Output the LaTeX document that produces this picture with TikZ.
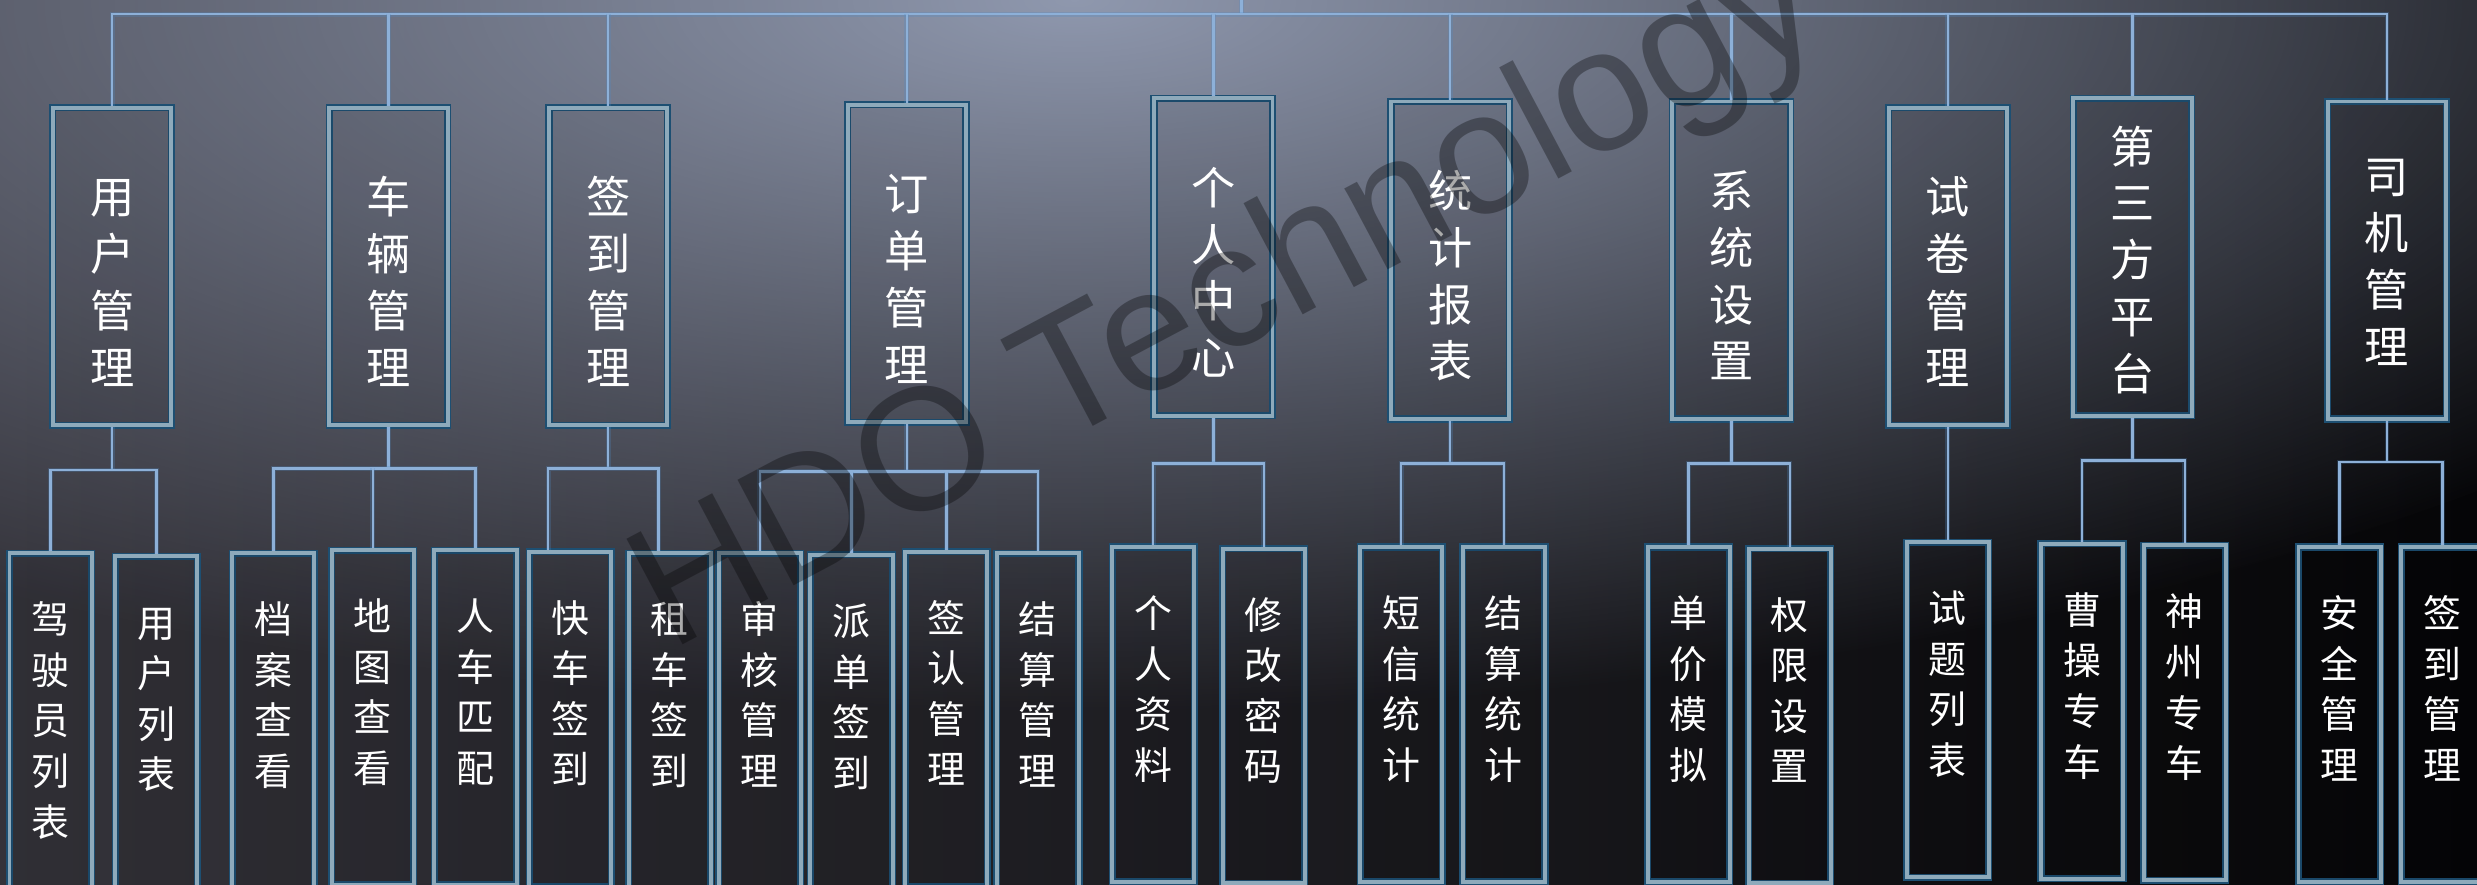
\documentclass[tikz,border=0pt]{standalone}
\usepackage{fontspec}
\newfontfamily\cjk{Noto Sans CJK SC}
\newfontfamily\wmfont{Liberation Sans}
\usetikzlibrary{positioning,fadings}
\definecolor{bgleft}{HTML}{34333A}
\definecolor{bgmid}{HTML}{2A2A30}
\definecolor{bgright}{HTML}{050507}
\definecolor{bglight}{HTML}{8F98AE}
\definecolor{boxborder}{HTML}{8EAABB}
\definecolor{boxglow}{HTML}{1D4F72}
\definecolor{linkblue}{HTML}{8DB0D8}
\definecolor{linkglow}{HTML}{4F8CC8}
\tikzfading[name=glowfade, inner color=transparent!0, outer color=transparent!100]

\begin{document}
\begin{tikzpicture}[x=1pt, y=-1pt]
	\tikzstyle{module}=[rectangle, draw=boxborder, line width=2.5pt, fill=black, fill opacity=0.06,
	text opacity=1, preaction={draw=boxglow, line width=4.5pt}, text=white, inner sep=0pt,
	anchor=north, text width=75pt, align=center, font=\cjk\fontsize{28pt}{36pt}\selectfont,
	text height=67pt, text depth=134pt]
	\tikzstyle{leaf}=[rectangle, draw=boxborder, line width=2.5pt, fill=black, fill opacity=0.08,
	text opacity=1, preaction={draw=boxglow, line width=4.5pt}, text=white, inner sep=0pt,
	anchor=north, text width=52pt, align=center, font=\cjk\fontsize{24pt}{32pt}\selectfont,
	text height=51pt, text depth=161pt]
	\tikzstyle{line}=[draw=linkblue, line width=1.6pt, preaction={draw=linkglow, line width=3pt, opacity=0.25}]
	\useasboundingbox (0,0) rectangle (1568,560);
	\clip (0,0) rectangle (1568,560);
	\shade[left color=bgleft, middle color=bgmid, right color=bgright] (0,0) rectangle (1568,560);
	\fill[bglight, path fading=glowfade] (680,0) ellipse [x radius=1250pt, y radius=450pt];

	\node (User) [module] at (71,67) {用\\户\\管\\理};
	\node (Vehicle) [module] at (246,67) {车\\辆\\管\\理};
	\node (Checkin) [module] at (385,67) {签\\到\\管\\理};
	\node (Order) [module] at (574,65) {订\\单\\管\\理};
	\node (Personal) [module] at (768,61) {个\\人\\中\\心};
	\node (Stats) [module] at (918,63) {统\\计\\报\\表};
	\node (System) [module] at (1096,63) {系\\统\\设\\置};
	\node (Exam) [module] at (1233,67) {试\\卷\\管\\理};
	\node (Third) [module, text height=41pt, text depth=160pt] at (1350,61) {第\\三\\方\\平\\台};
	\node (Driver) [module, text height=58pt, text depth=143pt] at (1511,63) {司\\机\\管\\理};

	\node (DriverList) [leaf] at (32,349) {驾\\驶\\员\\列\\表};
	\node (UserList) [leaf] at (99,351) {用\\户\\列\\表};
	\node (Archive) [leaf] at (173,349) {档\\案\\查\\看};
	\node (Map) [leaf] at (236,347) {地\\图\\查\\看};
	\node (Match) [leaf] at (301,347) {人\\车\\匹\\配};
	\node (Express) [leaf] at (361,348) {快\\车\\签\\到};
	\node (Rental) [leaf] at (424,349) {租\\车\\签\\到};
	\node (Audit) [leaf] at (481,349) {审\\核\\管\\理};
	\node (Dispatch) [leaf] at (539,350) {派\\单\\签\\到};
	\node (Confirm) [leaf] at (599,348) {签\\认\\管\\理};
	\node (Settle) [leaf] at (657,349) {结\\算\\管\\理};
	\node (Profile) [leaf] at (730,345) {个\\人\\资\\料};
	\node (Password) [leaf] at (800,346) {修\\改\\密\\码};
	\node (Sms) [leaf] at (887,345) {短\\信\\统\\计};
	\node (Tally) [leaf] at (952,345) {结\\算\\统\\计};
	\node (Price) [leaf] at (1069,345) {单\\价\\模\\拟};
	\node (Rights) [leaf] at (1133,346) {权\\限\\设\\置};
	\node (Questions) [leaf] at (1233,342) {试\\题\\列\\表};
	\node (Caocao) [leaf] at (1318,343) {曹\\操\\专\\车};
	\node (Shenzhou) [leaf] at (1383,344) {神\\州\\专\\车};
	\node (Safety) [leaf] at (1481,345) {安\\全\\管\\理};
	\node (Signin) [leaf] at (1546,345) {签\\到\\管\\理};

	\coordinate (Root) at (786,0);
	\draw[line] (Root) -- ++(0,9) coordinate (TopBar);
	\draw[line] (User.north) |- (TopBar) -| (Driver.north);
	\draw[line] (Vehicle.north) -- (Vehicle.north |- TopBar);
	\draw[line] (Checkin.north) -- (Checkin.north |- TopBar);
	\draw[line] (Order.north) -- (Order.north |- TopBar);
	\draw[line] (Personal.north) -- (Personal.north |- TopBar);
	\draw[line] (Stats.north) -- (Stats.north |- TopBar);
	\draw[line] (System.north) -- (System.north |- TopBar);
	\draw[line] (Exam.north) -- (Exam.north |- TopBar);
	\draw[line] (Third.north) -- (Third.north |- TopBar);

	\draw[line] (User.south) -- ++(0,27) coordinate (UserBar);
	\draw[line] (DriverList.north) |- (UserBar) -| (UserList.north);
	\draw[line] (Vehicle.south) -- ++(0,26) coordinate (VehicleBar);
	\draw[line] (Archive.north) |- (VehicleBar) -| (Match.north);
	\draw[line] (Map.north) -- (Map.north |- VehicleBar);
	\draw[line] (Checkin.south) -- ++(0,26) coordinate (CheckinBar);
	\draw[line] ([xshift=-14pt]Express.north) |- (CheckinBar) -| ([xshift=-7pt]Rental.north);
	\draw[line] (Order.south) -- ++(0,30) coordinate (OrderBar);
	\draw[line] (Audit.north) |- (OrderBar) -| (Settle.north);
	\draw[line] (Dispatch.north) -- (Dispatch.north |- OrderBar);
	\draw[line] (Confirm.north) -- (Confirm.north |- OrderBar);
	\draw[line] (Personal.south) -- ++(0,29) coordinate (PersonalBar);
	\draw[line] (Profile.north) |- (PersonalBar) -| (Password.north);
	\draw[line] (Stats.south) -- ++(0,27) coordinate (StatsBar);
	\draw[line] (Sms.north) |- (StatsBar) -| (Tally.north);
	\draw[line] (System.south) -- ++(0,27) coordinate (SystemBar);
	\draw[line] (Price.north) |- (SystemBar) -| (Rights.north);
	\draw[line] (Exam.south) -- (Questions.north);
	\draw[line] (Third.south) -- ++(0,27) coordinate (ThirdBar);
	\draw[line] (Caocao.north) |- (ThirdBar) -| (Shenzhou.north);
	\draw[line] (Driver.south) -- ++(0,26) coordinate (DriverBar);
	\draw[line] (Safety.north) |- (DriverBar) -| (Signin.north);

	\node (Watermark) [rotate=28, text=black, text opacity=0.33, font=\wmfont\fontsize{110pt}{115pt}\selectfont]
	at (778,192) {HDO Technology};
\end{tikzpicture}
\end{document}
